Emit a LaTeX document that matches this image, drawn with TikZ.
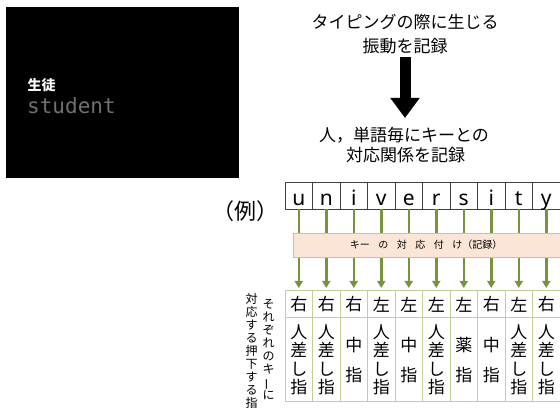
\documentclass[tikz,border=0pt]{standalone}
\usepackage{fontspec}
\newfontfamily\jp{Noto Sans CJK JP}
\newfontfamily\latn{Noto Sans}
\newfontfamily\mono{DejaVu Sans Mono}
\usetikzlibrary{arrows.meta}
\definecolor{grn}{RGB}{119,147,60}
\definecolor{cellgrn}{RGB}{190,210,150}
\definecolor{orgline}{RGB}{244,177,131}
\definecolor{orgfill}{RGB}{251,229,214}
\definecolor{stgray}{RGB}{112,112,112}
\newcommand\vchoon{\smash{\rotatebox[origin=c]{90}{ー}}}
\newcommand\fhito{人\\差\\し\\指}
\newcommand\fnaka{中\\指}
\newcommand\fkusu{薬\\指}
\begin{document}
\begin{tikzpicture}[x=1pt,y=-1pt,
  jpt/.style={font=\jp\fontsize{#1}{#1}\selectfont, inner sep=0pt},
  lcell/.style={draw=black!75, line width=0.8pt, minimum width=27.5pt, minimum height=27pt, inner sep=0pt},
  lettr/.style={font=\latn\fontsize{21}{21}\selectfont, inner sep=0pt, anchor=base},
  fcell/.style={draw=cellgrn, line width=1pt, minimum width=27.5pt, minimum height=27pt, inner sep=0pt, font=\jp\fontsize{17}{17}\selectfont},
  gcell/.style={draw=cellgrn, line width=1pt, minimum width=27.5pt, minimum height=84pt, inner sep=0pt},
  gline/.style={draw=grn, line width=2.5pt},
  garrow/.style={draw=grn, line width=2.5pt, -{Triangle[width=8pt,length=7pt]}, shorten >=2.5pt},
  vtext/.style={font=\jp\fontsize{12}{13.1}\selectfont, inner sep=0pt, align=center}
]
\useasboundingbox (0,0) rectangle (560,411);
\clip (0,0) rectangle (560,411);

% black screen
\node[fill=black, minimum width=233pt, minimum height=171pt, inner sep=0pt, anchor=north west] (screen) at (6,7) {};
\node[font=\jp\bfseries\fontsize{14}{14}\selectfont, inner sep=0pt, text=white] (sei) at (41.5,85.5) {生徒};
\node[font=\mono\fontsize{21}{21}\selectfont, text=stgray, anchor=base west, inner sep=0pt] (stu) at (27,114) {student};

% top texts and arrow
\node[jpt=17] (t1) at (405,22) {タイピングの際に生じる};
\node[jpt=17] (t2) at (405,46.5) {振動を記録};
\node[jpt=17] (t3) at (404,135.5) {人，単語毎にキーとの};
\node[jpt=17] (t4) at (405.5,155) {対応関係を記録};
\coordinate (a1) at (405,57);
\coordinate (a2) at (405,118);
\draw[line width=11pt, -{Triangle[width=28pt,length=20pt]}] (a1) -- (a2);

% example label
\node[jpt=22] (rei) at (245,211) {（例）};

% orange box
\node[draw=orgline, fill=orgfill, line width=1pt, anchor=north west, minimum width=275pt, minimum height=24pt, inner sep=0pt] (org) at (293,233) {};
\node[jpt=10] (orgt) at (426,245) {キー\hspace{0.85em}の\hspace{0.85em}対\hspace{0.85em}応\hspace{0.85em}付\hspace{0.85em}け（記録）};

% letter cells, finger cells, connectors
\foreach \ch/\hd [count=\i] in {u/右, n/右, i/右, v/左, e/左, r/左, s/左, i/右, t/左, y/右} {
  \node[lcell] (C\i) at (285+27.5*\i-13.75, 195.5) {};
  \node[lettr] (L\i) at (285+27.5*\i-13.75, 205.5) {\ch};
  \node[fcell] (F\i) at (285+27.5*\i-13.75, 304.5) {\hd};
  \node[gcell] (G\i) at (285+27.5*\i-13.75, 360) {};
  \draw[gline] (C\i.south) -- (C\i.south |- org.north);
  \draw[garrow] (C\i.south |- org.south) -- (F\i.north);
}
\foreach \i in {1,2,4,6,9,10} {
  \node[font=\jp\fontsize{17}{18.5}\selectfont, inner sep=0pt, align=center] (H\i) at (G\i.center) {\fhito};
}
\foreach \i/\t in {3/\fnaka,5/\fnaka,7/\fkusu,8/\fnaka} {
  \node[font=\jp\fontsize{17}{30}\selectfont, inner sep=0pt, align=center] (H\i) at (G\i.center) {\t};
}

% vertical captions
\node[vtext] (v1) at (268.5,349.5) {そ\\れ\\ぞ\\れ\\の\\キ\\\vchoon\\に};
\node[vtext] (v2) at (251.5,351) {対\\応\\す\\る\\押\\下\\す\\る\\指};
\end{tikzpicture}
\end{document}
